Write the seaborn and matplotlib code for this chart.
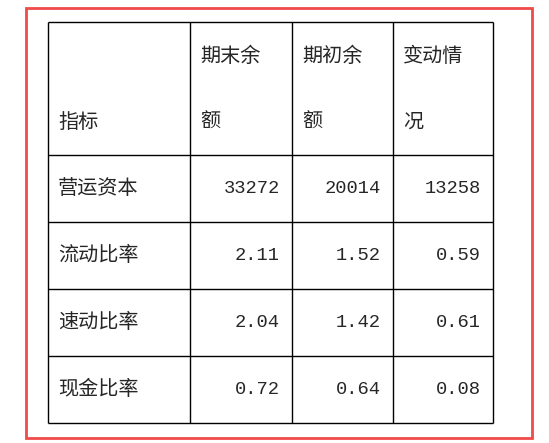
import matplotlib
matplotlib.use("Agg")
import matplotlib.pyplot as plt
import seaborn as sns
from matplotlib.patches import Rectangle

sns.set_style("white")
plt.rcParams['font.family'] = ['Noto Sans CJK SC', 'DejaVu Sans']

# data
header = ["指标", "期末余额", "期初余额", "变动情况"]
indicators = ["营运资本", "流动比率", "速动比率", "现金比率"]
end_vals = ["33272", "2.11", "2.04", "0.72"]
begin_vals = ["20014", "1.52", "1.42", "0.64"]
change_vals = ["13258", "0.59", "0.61", "0.08"]

# layout in pixels
W, H = 549, 443
col_x = [48, 190, 292, 393, 493]
row_y = [22, 155, 222, 289, 356, 423]

fig = plt.figure(figsize=(W / 100, H / 100), dpi=100)
ax = fig.add_axes([0, 0, 1, 1])
ax.set_xlim(0, W)
ax.set_ylim(H, 0)
ax.axis("off")

ax.add_patch(Rectangle((26, 8), 506, 430, fill=False, edgecolor="#f04a4a", linewidth=2))
ax.hlines(row_y, col_x[0], col_x[-1], color="black", linewidth=1)
ax.vlines(col_x, row_y[0], row_y[-1], color="black", linewidth=1)

fs = 14.5
# header
ax.text(col_x[0] + 10, 122, header[0], fontsize=fs, va="center", ha="left")
for i, h in enumerate(header[1:], start=1):
    ax.text(col_x[i] + 10, 56, h[:3], fontsize=fs, va="center", ha="left")
    ax.text(col_x[i] + 10, 122, h[3:], fontsize=fs, va="center", ha="left")

# body
for r, name in enumerate(indicators):
    yc = (row_y[r + 1] + row_y[r + 2]) / 2
    ax.text(col_x[0] + 10, yc, name, fontsize=fs, va="center", ha="left")
    for c, vals in enumerate([end_vals, begin_vals, change_vals], start=1):
        ax.text(col_x[c + 1] - 12, yc, vals[r], fontsize=13.5, va="center", ha="right",
                family="Liberation Mono")

fig.savefig("out.png", dpi=100, facecolor="white")
